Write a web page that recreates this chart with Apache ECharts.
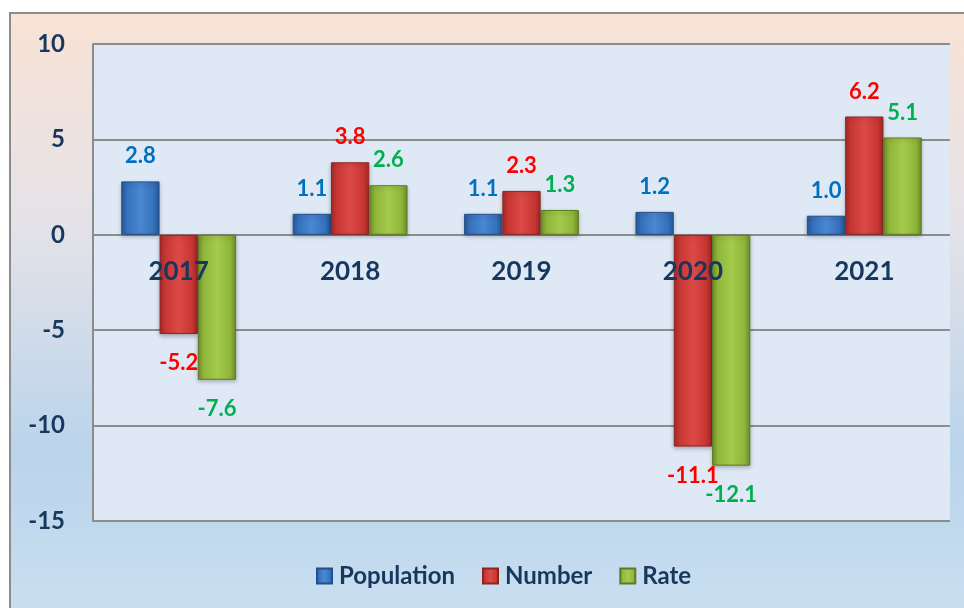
<!DOCTYPE html>
<html>
<head>
<meta charset="utf-8">
<script src="https://cdn.jsdelivr.net/npm/echarts@6/dist/echarts.min.js"></script>
<style>
  html, body { margin: 0; padding: 0; background: #fff; }
  #chart { width: 964px; height: 608px; }
</style>
</head>
<body>
<div id="chart"></div>
<script>
const years = ['2017', '2018', '2019', '2020', '2021']
const population = [2.8, 1.1, 1.1, 1.2, 1.0]
const number = [-5.2, 3.8, 2.3, -11.1, 6.2]
const rate = [-7.6, 2.6, 1.3, -12.1, 5.1]
const yTicks = [-15, -10, -5, 0, 5, 10]

const navy = '#17375e'
const font = 'Lato, "Open Sans", sans-serif'

const gridTop = 44
const gridBottom = 87
const gridHeight = 608 - gridTop - gridBottom
const yMin = yTicks[0]
const yMax = yTicks[yTicks.length - 1]
// move the category axis up from the bottom edge to the zero line
const zeroOffset = -gridHeight * (0 - yMin) / (yMax - yMin)

function barColor(dark, mid, light) {
  return new echarts.graphic.LinearGradient(0, 0, 1, 0, [
    {offset: 0, color: dark},
    {offset: 0.15, color: mid},
    {offset: 0.5, color: light},
    {offset: 0.85, color: mid},
    {offset: 1, color: dark}
  ])
}

// label above positive bars, below negative ones
function items(values, labelColor) {
  return values.map(v => ({
    value: v,
    label: {
      show: true,
      position: v >= 0 ? 'top' : 'bottom',
      distance: v >= 0 ? 14 : 18,
      color: labelColor,
      fontFamily: font,
      fontWeight: 'bold',
      fontSize: 22,
      formatter: p => p.value.toFixed(1)
    }
  }))
}

function makeSeries(name, values, labelColor, dark, mid, light, border) {
  return {
    name: name,
    type: 'bar',
    barGap: '0%',
    barCategoryGap: '33%',
    itemStyle: {
      color: barColor(dark, mid, light),
      borderColor: border,
      borderWidth: 1,
      shadowColor: 'rgba(0,0,0,0.25)',
      shadowBlur: 4,
      shadowOffsetY: 2
    },
    data: items(values, labelColor)
  }
}

const myChart = echarts.init(document.getElementById('chart'))
myChart.setOption({
  animation: false,
  graphic: [{
    type: 'rect',
    z: -10,
    shape: {x: 10, y: 13, width: 970, height: 610},
    style: {
      fill: new echarts.graphic.LinearGradient(0, 0, 0, 1, [
        {offset: 0, color: '#f9e3d5'},
        {offset: 0.35, color: '#e4e2e8'},
        {offset: 0.72, color: '#bad4eb'},
        {offset: 1, color: '#cadff1'}
      ]),
      stroke: '#8c8c8c',
      lineWidth: 2
    }
  }],
  grid: {
    left: 93,
    right: 14,
    top: gridTop,
    bottom: gridBottom,
    show: true,
    backgroundColor: '#dee9f5',
    borderWidth: 0
  },
  legend: {
    bottom: 15,
    left: 311,
    itemWidth: 15,
    itemHeight: 15,
    itemGap: 27,
    icon: 'rect',
    textStyle: {color: navy, fontFamily: font, fontWeight: 'bold', fontSize: 24, padding: [0, 0, 0, 2]},
    data: ['Population', 'Number', 'Rate']
  },
  xAxis: {
    type: 'category',
    data: years,
    z: 10,
    offset: zeroOffset,
    axisLine: {show: false, onZero: false},
    axisTick: {show: false},
    axisLabel: {
      color: navy,
      fontFamily: font,
      fontWeight: 'bold',
      fontSize: 26,
      margin: 24
    }
  },
  yAxis: {
    type: 'value',
    min: yMin,
    max: yMax,
    interval: 5,
    axisLine: {show: true, lineStyle: {color: '#8c8c8c', width: 2}},
    axisTick: {show: false},
    splitLine: {lineStyle: {color: '#8c8c8c', width: 2}},
    axisLabel: {
      color: navy,
      fontFamily: font,
      fontWeight: 'bold',
      fontSize: 24,
      margin: 28
    }
  },
  series: [
    makeSeries('Population', population, '#0070c0', '#28599a', '#3570bb', '#4a88d2', '#244f88'),
    makeSeries('Number', number, '#ff0000', '#a52a28', '#c83634', '#db4a47', '#8e2422'),
    makeSeries('Rate', rate, '#00b050', '#6f8e2a', '#8fb53a', '#a5cb4c', '#5f7a24')
  ]
})
</script>
</body>
</html>
